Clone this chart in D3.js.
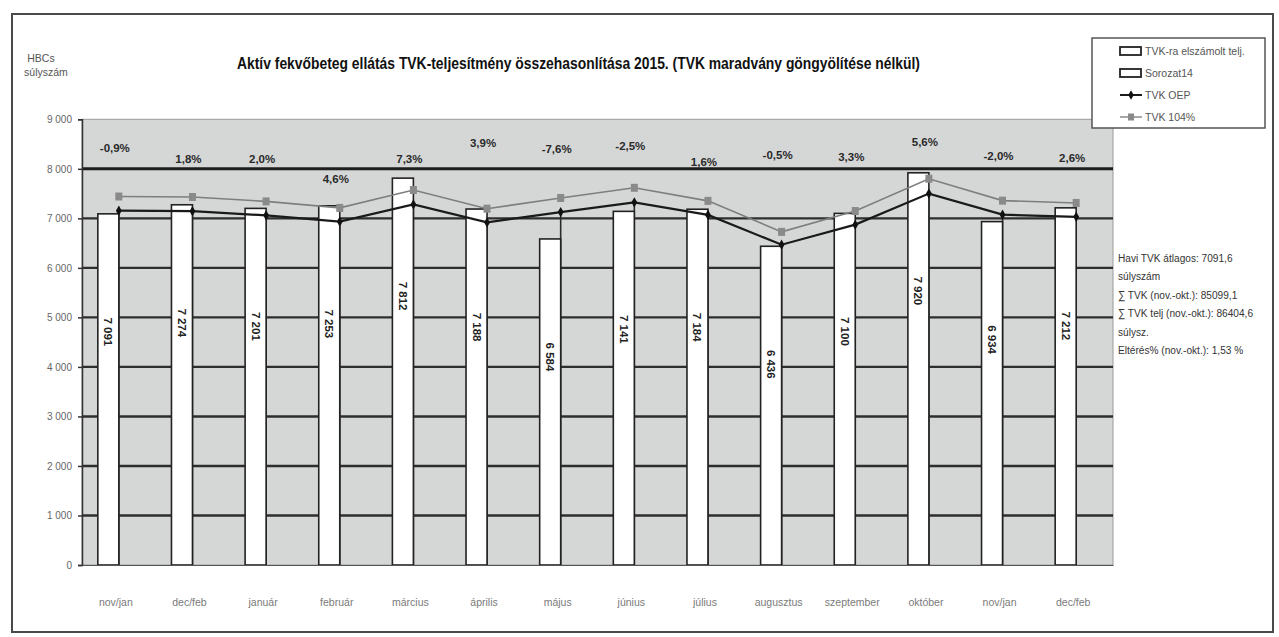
<!DOCTYPE html>
<html>
<head>
<meta charset="utf-8">
<script src="https://cdn.jsdelivr.net/npm/d3@7"></script>
<style>
body { margin: 0; background: #fff; }
svg { display: block; }
text { font-family: "Liberation Sans Narrow", "Arial Narrow", "Liberation Sans", Arial, sans-serif; }
</style>
</head>
<body>
<svg id="drawing_region"></svg>
<script>
// havi adatok (nov. - dec.)
const months = ["nov/jan", "dec/feb", "január", "február", "március", "április", "május",
                "június", "július", "augusztus", "szeptember", "október", "nov/jan", "dec/feb"];
const teljesites = [7091, 7274, 7201, 7253, 7812, 7188, 6584, 7141, 7184, 6436, 7100, 7920, 6934, 7212];
const sorozat14  = [0, 0, 0, 0, 0, 0, 0, 0, 0, 0, 0, 0, 0, 0];
const tvkOep     = [7155, 7145, 7060, 6934, 7281, 6918, 7126, 7324, 7070, 6468, 6873, 7500, 7075, 7030];
const tvk104     = [7441, 7431, 7342, 7211, 7572, 7195, 7411, 7617, 7353, 6727, 7148, 7800, 7358, 7311];
// eltérés % címkék és a láthatatlan segédsor szintje
const pctLabels  = ["-0,9%", "1,8%", "2,0%", "4,6%", "7,3%", "3,9%", "-7,6%",
                    "-2,5%", "1,6%", "-0,5%", "3,3%", "5,6%", "-2,0%", "2,6%"];
const pctLevel   = [8420, 8200, 8200, 7800, 8200, 8520, 8400, 8460, 8140, 8280, 8240, 8540, 8260, 8220];
const yTicks = [0, 1000, 2000, 3000, 4000, 5000, 6000, 7000, 8000, 9000];
const legendNames = ["TVK-ra elszámolt telj.", "Sorozat14", "TVK OEP", "TVK 104%"];
const infoLines = ["Havi TVK átlagos: 7091,6", "súlyszám", "∑ TVK (nov.-okt.): 85099,1",
                   "∑ TVK telj (nov.-okt.): 86404,6", "súlysz.", "Eltérés% (nov.-okt.): 1,53 %"];
const title = "Aktív fekvőbeteg ellátás  TVK-teljesítmény összehasonlítása 2015. (TVK maradvány göngyölítése nélkül)";

const config = {
    width: 1279,
    height: 637,
    plot: {left: 82, top: 119.3, right: 1113, bottom: 565}
};

const svg = d3.select('#drawing_region')
    .attr('width', config.width)
    .attr('height', config.height);

const p = config.plot;

// külső keret
svg.append('rect')
    .attr('x', 12).attr('y', 14)
    .attr('width', 1261).attr('height', 618)
    .attr('fill', 'none')
    .attr('stroke', '#4a4a4a')
    .attr('stroke-width', 2);

const xScale = d3.scaleBand()
    .domain(d3.range(months.length))
    .range([p.left, p.right]);

const subScale = d3.scaleBand()
    .domain(['telj', 's14'])
    .range([-21, 21]);

const yScale = d3.scaleLinear()
    .domain([0, 9000])
    .range([p.bottom, p.top]);

const cx = i => xScale(i) + xScale.bandwidth() / 2;

// rajzterület háttér
svg.append('rect')
    .attr('x', p.left).attr('y', p.top)
    .attr('width', p.right - p.left).attr('height', p.bottom - p.top)
    .attr('fill', '#d5d7d7')
    .attr('stroke', '#9a9a9a')
    .attr('stroke-width', 1);

// rácsvonalak
svg.append('g')
    .selectAll('line')
    .data(yTicks.filter(t => t > 0 && t < 9000))
    .join('line')
    .attr('x1', p.left).attr('x2', p.right)
    .attr('y1', d => yScale(d)).attr('y2', d => yScale(d))
    .attr('stroke', d => d === 8000 ? '#1e1e1e' : '#2e2e2e')
    .attr('stroke-width', d => d === 8000 ? 3 : 2.4);

// függőleges vonalak (drop lines)
svg.append('g')
    .selectAll('line')
    .data(tvkOep)
    .join('line')
    .attr('x1', (d, i) => cx(i)).attr('x2', (d, i) => cx(i))
    .attr('y1', d => yScale(d)).attr('y2', p.bottom)
    .attr('stroke', '#2a2a2a')
    .attr('stroke-width', 1.6);

// oszlopok
const barData = teljesites.map((v, i) => ({i: i, key: 'telj', value: v}))
    .concat(sorozat14.map((v, i) => ({i: i, key: 's14', value: v})));

svg.append('g')
    .selectAll('rect')
    .data(barData.filter(d => d.value > 0))
    .join('rect')
    .attr('x', d => cx(d.i) + subScale(d.key))
    .attr('y', d => yScale(d.value))
    .attr('width', subScale.bandwidth())
    .attr('height', d => p.bottom - yScale(d.value))
    .attr('fill', '#ffffff')
    .attr('stroke', '#222')
    .attr('stroke-width', 1.6);

// oszlop feliratok (elforgatva)
svg.append('g')
    .selectAll('text')
    .data(teljesites)
    .join('text')
    .attr('transform', (d, i) => `translate(${cx(i) + subScale('telj') + subScale.bandwidth() / 2 - 4}, ${yScale(d) + 118}) rotate(90)`)
    .attr('text-anchor', 'middle')
    .attr('font-size', '11.5px')
    .attr('font-weight', 'bold')
    .attr('fill', '#222')
    .text(d => d3.format(',')(d).replace(',', ' '));

// TVK 104% vonal
const line = d3.line()
    .x((d, i) => cx(i))
    .y(d => yScale(d));

svg.append('path')
    .datum(tvk104)
    .attr('d', line)
    .attr('fill', 'none')
    .attr('stroke', '#7e7e7e')
    .attr('stroke-width', 1.6);

svg.append('g')
    .selectAll('rect')
    .data(tvk104)
    .join('rect')
    .attr('x', (d, i) => cx(i) - 3.5)
    .attr('y', d => yScale(d) - 4)
    .attr('width', 7).attr('height', 8)
    .attr('fill', '#8a8a8a');

// TVK OEP vonal
svg.append('path')
    .datum(tvkOep)
    .attr('d', line)
    .attr('fill', 'none')
    .attr('stroke', '#1a1a1a')
    .attr('stroke-width', 2.2);

svg.append('g')
    .selectAll('path')
    .data(tvkOep)
    .join('path')
    .attr('d', d3.symbol().type(d3.symbolDiamond).size(30))
    .attr('transform', (d, i) => `translate(${cx(i)}, ${yScale(d)})`)
    .attr('fill', '#111');

// eltérés % címkék
svg.append('g')
    .selectAll('text')
    .data(pctLabels)
    .join('text')
    .attr('x', (d, i) => cx(i) - 4)
    .attr('y', (d, i) => yScale(pctLevel[i]) + 4)
    .attr('text-anchor', 'middle')
    .attr('font-size', '11.5px')
    .attr('font-weight', 'bold')
    .attr('fill', '#2a2a2a')
    .text(d => d);

// y tengely
const yAxis = d3.axisLeft(yScale)
    .tickValues(yTicks)
    .tickSize(4)
    .tickFormat(d => d3.format(',')(d).replace(',', ' '));

const yAxisGroup = svg.append('g')
    .attr('transform', `translate(${p.left}, 0)`)
    .call(yAxis);

yAxisGroup.select('.domain')
    .attr('stroke', '#333')
    .attr('stroke-width', 1.5);
yAxisGroup.selectAll('.tick line')
    .attr('stroke', '#333')
    .attr('stroke-width', 1.5);
yAxisGroup.selectAll('.tick text')
    .attr('x', -10)
    .attr('font-size', '10px')
    .attr('font-family', '"Liberation Sans Narrow", "Arial Narrow", sans-serif')
    .attr('fill', '#666');

// x tengely feliratok
const xAxis = d3.axisBottom(xScale)
    .tickSize(0)
    .tickFormat(i => months[i]);

const xAxisGroup = svg.append('g')
    .attr('transform', `translate(0, ${p.bottom})`)
    .call(xAxis);

xAxisGroup.select('.domain')
    .attr('stroke', '#555')
    .attr('stroke-width', 1);
xAxisGroup.selectAll('.tick text')
    .attr('dx', -3)
    .attr('dy', 38)
    .attr('font-size', '10.5px')
    .attr('font-family', '"Liberation Sans Narrow", "Arial Narrow", sans-serif')
    .attr('fill', '#7a7a7a');

// y tengely címe
svg.append('text')
    .attr('x', 41).attr('y', 62)
    .attr('text-anchor', 'middle')
    .attr('font-size', '10.5px')
    .attr('fill', '#555')
    .text('HBCs');
svg.append('text')
    .attr('x', 46).attr('y', 76)
    .attr('text-anchor', 'middle')
    .attr('font-size', '10.5px')
    .attr('fill', '#555')
    .text('súlyszám');

// cím
svg.append('text')
    .attr('x', 237).attr('y', 69)
    .attr('font-size', '17px')
    .attr('font-weight', 'bold')
    .attr('fill', '#111')
    .attr('textLength', 683)
    .attr('lengthAdjust', 'spacingAndGlyphs')
    .text(title);

// jelmagyarázat
const legend = svg.append('g');
legend.append('rect')
    .attr('x', 1092).attr('y', 38)
    .attr('width', 173).attr('height', 90)
    .attr('fill', '#fff')
    .attr('stroke', '#555')
    .attr('stroke-width', 1.5);

const legendItems = legend.selectAll('g.item')
    .data(legendNames)
    .join('g')
    .attr('class', 'item')
    .attr('transform', (d, i) => `translate(1120, ${51 + i * 22})`);

legendItems.filter((d, i) => i < 2)
    .append('rect')
    .attr('x', 0).attr('y', -4)
    .attr('width', 21).attr('height', 8)
    .attr('fill', '#fff')
    .attr('stroke', '#222')
    .attr('stroke-width', 1.8);

legendItems.filter((d, i) => i === 2)
    .append('line')
    .attr('x1', 0).attr('x2', 22)
    .attr('stroke', '#1a1a1a')
    .attr('stroke-width', 2);
legendItems.filter((d, i) => i === 2)
    .append('path')
    .attr('d', d3.symbol().type(d3.symbolDiamond).size(26))
    .attr('transform', 'translate(11, 0)')
    .attr('fill', '#111');

legendItems.filter((d, i) => i === 3)
    .append('line')
    .attr('x1', 0).attr('x2', 22)
    .attr('stroke', '#8a8a8a')
    .attr('stroke-width', 1.5);
legendItems.filter((d, i) => i === 3)
    .append('rect')
    .attr('x', 8).attr('y', -3.5)
    .attr('width', 6).attr('height', 7)
    .attr('fill', '#8a8a8a');

legendItems.append('text')
    .attr('x', 25).attr('y', 4)
    .attr('font-size', '10.5px')
    .attr('fill', '#555')
    .text(d => d);

// összesítő szöveg (keskenyített)
svg.append('g')
    .attr('transform', 'translate(1118, 0) scale(0.88, 1)')
    .selectAll('text')
    .data(infoLines)
    .join('text')
    .attr('x', 0)
    .attr('y', (d, i) => 262 + i * 18.4)
    .attr('font-size', '11.5px')
    .attr('fill', '#333')
    .text(d => d);
</script>
</body>
</html>
